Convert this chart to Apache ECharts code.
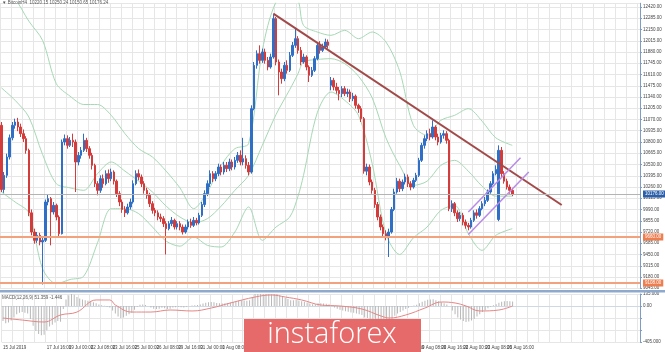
<!DOCTYPE html>
<html>
<head>
<meta charset="utf-8">
<script src="https://cdn.jsdelivr.net/npm/echarts@6/dist/echarts.min.js"></script>
<style>
  html, body { margin: 0; padding: 0; background: #fff; }
  #chart { width: 665px; height: 352px; }
</style>
</head>
<body>
<div id="chart"></div>
<script>
// BTC H4 candles, one per 4 hours, weekends skipped
const opens = [
  11000, 10230, 10400, 10620, 10850, 11000, 11040, 10980, 10900, 10840,
  10700, 9950, 9720, 9620, 9680, 9600, 9620, 10080, 10120, 9960,
  10040, 9900, 9700, 10800, 10840, 10760, 10820, 10800, 10560, 10640,
  10700, 10820, 10720, 10640, 10520, 10300, 10220, 10360, 10300, 10420,
  10360, 10440, 10330, 10180, 10080, 9990, 9950, 10020, 10080, 10300,
  10420, 10380, 10300, 10220, 10160, 10060, 9980, 9950, 9900, 9880,
  9820, 9760, 9820, 9860, 9780, 9820, 9780, 9720, 9780, 9840,
  9800, 9860, 9830, 9920, 10050, 10180, 10300, 10420, 10360, 10420,
  10500, 10440, 10520, 10480, 10560, 10500, 10580, 10640, 10560, 10600,
  10520, 10440, 11200, 11720, 11860, 11780, 11880, 11780, 11700, 11820,
  12280, 11760, 11640, 11560, 11720, 11660, 11840, 11960, 12040, 11900,
  11760, 11820, 11700, 11600, 11660, 11800, 11960, 11900, 11940, 12000,
  11480, 11540, 11460, 11420, 11380, 11440, 11380, 11400, 11320, 11350,
  11240, 11200, 11080, 10450, 10500, 10320, 10220, 10050, 9900, 9780,
  9700, 9660, 9720, 9990, 10200, 10330, 10240, 10320, 10380, 10300,
  10260, 10340, 10400, 10580, 10760, 10840, 10900, 10860, 10980, 10860,
  10800, 10880, 10900, 10820, 10000, 10060, 9950, 9880, 9920, 9840,
  9800, 9780, 9860, 9950, 9920, 10000, 10060, 10100, 10200, 10300,
  10420, 9870, 10700, 10420, 10330, 10260, 10220
];
const closes = [
  10230, 10400, 10620, 10850, 11000, 11040, 10980, 10900, 10840, 10700,
  9950, 9720, 9620, 9680, 9600, 9620, 10080, 10120, 9960, 10040,
  9900, 9700, 10800, 10840, 10760, 10820, 10800, 10560, 10640, 10700,
  10820, 10720, 10640, 10520, 10300, 10220, 10360, 10300, 10420, 10360,
  10440, 10330, 10180, 10080, 9990, 9950, 10020, 10080, 10300, 10420,
  10380, 10300, 10220, 10160, 10060, 9980, 9950, 9900, 9880, 9820,
  9760, 9820, 9860, 9780, 9820, 9780, 9720, 9780, 9840, 9800,
  9860, 9830, 9920, 10050, 10180, 10300, 10420, 10360, 10420, 10500,
  10440, 10520, 10480, 10560, 10500, 10580, 10640, 10560, 10600, 10520,
  10440, 11200, 11720, 11860, 11780, 11880, 11780, 11700, 11820, 12280,
  11760, 11640, 11560, 11720, 11660, 11840, 11960, 12040, 11900, 11760,
  11820, 11700, 11600, 11660, 11800, 11960, 11900, 11940, 12000, 11960,
  11540, 11460, 11420, 11380, 11440, 11380, 11400, 11320, 11350, 11240,
  11200, 11080, 10450, 10500, 10320, 10220, 10050, 9900, 9780, 9700,
  9660, 9720, 9990, 10200, 10330, 10240, 10320, 10380, 10300, 10260,
  10340, 10400, 10580, 10760, 10840, 10900, 10860, 10980, 10860, 10800,
  10880, 10900, 10820, 10000, 10060, 9950, 9880, 9920, 9840, 9800,
  9780, 9860, 9950, 9920, 10000, 10060, 10100, 10200, 10300, 10420,
  10470, 10700, 10420, 10330, 10260, 10220, 10176
];
const lows = [
  10200, 10190, 10370, 10590, 10820, 10960, 10930, 10860, 10800, 10660,
  9910, 9680, 9580, 9590, 9560, 9090, 9600, 10040, 9560, 9930,
  9860, 9660, 9690, 10760, 10720, 10740, 10740, 10200, 10520, 10600,
  10680, 10680, 10600, 10470, 10260, 10160, 10190, 10250, 10280, 10310,
  10330, 10290, 10140, 10030, 9950, 9900, 9930, 9990, 10060, 10280,
  10340, 10260, 10180, 10120, 10020, 9940, 9910, 9860, 9840, 9780,
  9450, 9740, 9790, 9750, 9750, 9740, 9690, 9700, 9750, 9770,
  9780, 9800, 9810, 9900, 10020, 10150, 10260, 10320, 10330, 10390,
  10400, 10410, 10440, 10450, 10460, 10470, 10550, 10520, 10520, 10480,
  10400, 10420, 11180, 11680, 11740, 11750, 11740, 11660, 11680, 11800,
  11720, 11360, 11500, 11530, 11620, 11640, 11820, 11930, 11860, 11720,
  11740, 11660, 11520, 11580, 11640, 11780, 11860, 11880, 11920, 11920,
  11420, 11420, 11380, 11300, 11340, 11350, 11340, 11280, 11290, 11200,
  11150, 11040, 10420, 10400, 10280, 10180, 10010, 9860, 9740, 9660,
  9620, 9420, 9700, 9970, 10180, 10200, 10210, 10290, 10260, 10220,
  10240, 10320, 10380, 10560, 10720, 10810, 10820, 10840, 10820, 10760,
  10780, 10840, 10780, 9970, 9960, 9910, 9840, 9850, 9800, 9760,
  9740, 9760, 9840, 9880, 9900, 9980, 10030, 10080, 10180, 10280,
  10400, 9850, 10380, 10300, 10230, 10180, 10150
];
const highs = [
  11040, 10440, 10660, 10890, 11040, 11080, 11090, 11020, 10950, 10870,
  10720, 9990, 9760, 9720, 9710, 9660, 10110, 10170, 10140, 10080,
  10060, 9920, 10830, 10890, 10880, 10860, 10900, 10830, 10680, 10740,
  10900, 10850, 10750, 10670, 10540, 10330, 10400, 10410, 10460, 10470,
  10480, 10460, 10350, 10210, 10110, 10030, 10060, 10120, 10340, 10460,
  10470, 10410, 10330, 10250, 10190, 10090, 10010, 9980, 9940, 9910,
  9850, 9850, 9900, 9880, 9850, 9850, 9810, 9810, 9870, 9880,
  9900, 9890, 9950, 10080, 10220, 10340, 10460, 10450, 10450, 10540,
  10530, 10560, 10560, 10600, 10590, 10620, 10680, 10700, 10850, 10640,
  10560, 11240, 11760, 11900, 11960, 11920, 11920, 11820, 11860, 12330,
  12300, 11790, 11680, 11760, 11780, 11880, 12000, 12170, 12070, 11940,
  11860, 11840, 11720, 11700, 11830, 12000, 12010, 11980, 12040, 12030,
  11580, 11570, 11510, 11460, 11470, 11470, 11440, 11430, 11390, 11370,
  11260, 11230, 11100, 10540, 10530, 10350, 10250, 10080, 9930, 9810,
  9740, 9760, 10020, 10240, 10370, 10360, 10350, 10420, 10410, 10330,
  10370, 10430, 10610, 10790, 10880, 10940, 10960, 11060, 11000, 10900,
  10910, 10940, 10930, 10840, 10100, 10080, 9980, 9960, 9950, 9870,
  9830, 9890, 9980, 9990, 10030, 10090, 10140, 10230, 10330, 10450,
  10520, 10760, 10740, 10450, 10360, 10290, 10250
];

// Bollinger bands (20, 2), read every few candles
const bbIdx = [0, 5, 10, 15, 20, 25, 30, 35, 40, 45, 50, 55, 60, 65, 70, 75, 80, 85, 90, 95,
  100, 105, 108, 110, 115, 120, 125, 130, 135, 140, 145, 150, 155, 160, 165, 170, 175, 180, 186];
const bbUp = [12700, 12520, 12250, 12020, 11500, 11350, 11250, 11250, 11120, 10900,
  10720, 10620, 10450, 10250, 10000, 10200, 10520, 10720, 10780, 11900,
  12480, 12560, 12500, 12200, 12120, 12080, 12140, 12040, 12120, 12000,
  11650, 11000, 10880, 11060, 11120, 11200, 11050, 10850, 10760];
const bbMid = [11450, 11300, 11100, 10650, 10300, 10250, 10220, 10420, 10560, 10450,
  10330, 10200, 10030, 9900, 9830, 9880, 10030, 10220, 10400, 10760,
  11130, 11430, 11620, 11760, 11790, 11800, 11740, 11590, 11330, 10850,
  10520, 10280, 10330, 10520, 10580, 10450, 10270, 10150, 10150];
const bbLow = [10200, 10080, 9950, 9280, 9100, 9150, 9190, 9590, 10000, 10000,
  9940, 9780, 9610, 9550, 9660, 9560, 9540, 9720, 10020, 9620,
  9780, 9900, 10150, 10400, 11150, 11400, 11300, 11120, 10540, 9700,
  9450, 9650, 9780, 9980, 10040, 9700, 9500, 9680, 9760];

// MACD(12,26,9) bars, one per candle
const macdBars = [
  -170, -195, -187, -162, -128, -94, -77, -68, -77, -85,
  -145, -221, -280, -315, -330, -323, -272, -230, -212, -187,
  -170, -178, -34, 72, 120, 135, 126, 102, 84, 72,
  66, 60, 54, 42, 30, 18, 9, 3, -9, -17,
  -51, -85, -119, -136, -128, -111, -94, -77, -43, -9,
  15, 18, 12, 0, -17, -30, -34, -30, -21, -26,
  -34, -30, -17, -13, -9, -13, -17, -9, 0, 6,
  9, 12, 18, 27, 36, 42, 45, 42, 33, 30,
  27, 30, 33, 39, 45, 51, 60, 66, 63, 60,
  66, 102, 135, 135, 135, 135, 135, 135, 132, 135,
  135, 120, 102, 90, 78, 66, 66, 69, 63, 54,
  48, 39, 27, 21, 21, 30, 30, 27, 24, 21,
  6, -17, -30, -43, -51, -60, -64, -72, -77, -85,
  -94, -102, -128, -136, -145, -153, -170, -179, -187, -187,
  -183, -170, -145, -111, -85, -68, -51, -34, -21, -4,
  6, 15, 30, 48, 60, 69, 72, 75, 66, 54,
  42, 30, 18, 0, -51, -94, -128, -153, -170, -179,
  -174, -162, -145, -119, -94, -68, -47, -26, -9, 9,
  21, 36, 48, 54, 57, 54, 51
];
// signal line, read at its turning points
const sigIdx = [0, 7, 15, 21, 27, 34, 39, 41, 47, 54, 61, 69, 76, 83, 92, 98, 103, 109, 116, 123,
  131, 138, 141, 147, 154, 160, 165, 169, 174, 181, 186];
const sigVal = [-135, -158, -180, -101, -68, 68, 68, 11, -68, -68, -45, -56, -23, 34, 101, 124, 101, 68, 11, 0,
  -34, -113, -135, -101, -23, 45, 34, 0, -56, -45, 0];

// drawn levels and lines
const supportLevels = [9660, 9108];
const trendLine = [[99, 12340], [204, 10044]];
const channelUpper = [[170, 9960], [189, 10610]];
const channelLower = [[170, 9690], [192, 10440]];

const xLabels = ['15 Jul 2019', '16 Jul 08:00', '17 Jul 16:00', '19 Jul 00:00', '22 Jul 08:00',
  '23 Jul 16:00', '25 Jul 00:00', '26 Jul 08:00', '29 Jul 16:00', '31 Jul 00:00', '1 Aug 08:00',
  '2 Aug 16:00', '6 Aug 00:00', '7 Aug 08:00', '8 Aug 16:00', '12 Aug 00:00', '13 Aug 08:00',
  '14 Aug 16:00', '16 Aug 00:00', '19 Aug 08:00', '20 Aug 16:00', '22 Aug 00:00', '23 Aug 08:00',
  '26 Aug 16:00'];

const SLOTS = 233; // empty room on the right, like the terminal
const cats = [];
for (let i = 0; i < SLOTS; i++) cats.push(i);

const candles = opens.map((o, i) => [o, closes[i], lows[i], highs[i]]);
const lastClose = closes[closes.length - 1];
const pairs = (xs, ys) => xs.map((x, k) => [x, ys[k]]);

const gridColor = '#e6e6e6';
const axisBlue = '#7f9dc4';
const txt = { fontSize: 4.5, color: '#444', fontFamily: 'Liberation Sans' };

const chart = echarts.init(document.getElementById('chart'));

function levelLine(value, color, width, labelBg) {
  return {
    yAxis: value,
    lineStyle: { color: color, width: width, type: 'solid' },
    label: {
      show: true,
      position: 'end',
      distance: 3,
      formatter: (p) => p.value.toFixed(2),
      backgroundColor: labelBg,
      color: '#fff',
      fontSize: 4.5,
      fontFamily: 'Liberation Sans',
      padding: [1, 2],
    },
  };
}

const option = {
  animation: false,
  backgroundColor: '#fff',
  grid: [
    { left: 0, right: 25, top: 3.25, height: 285 },
    { left: 0, right: 25, top: 294, height: 48 },
  ],
  xAxis: [
    {
      type: 'category', gridIndex: 0, data: cats,
      axisLine: { show: false },
      axisTick: { show: false }, axisLabel: { show: false },
      splitLine: { show: true, interval: 3, lineStyle: { color: gridColor } },
    },
    {
      type: 'category', gridIndex: 1, data: cats,
      axisLine: { show: true, lineStyle: { color: '#cfd9e6' } },
      axisTick: { show: false },
      axisLabel: Object.assign({
        interval: 7, align: 'left', margin: 3, showMinLabel: true,
        formatter: (v, i) => xLabels[i / 8] || '',
      }, txt),
      splitLine: { show: true, interval: 3, lineStyle: { color: gridColor } },
    },
  ],
  yAxis: [
    {
      type: 'value', gridIndex: 0, position: 'right',
      min: 9045, max: 12465, interval: 135,
      axisLine: { show: true, lineStyle: { color: axisBlue } },
      axisTick: { show: true, length: 2, lineStyle: { color: axisBlue } },
      axisLabel: Object.assign({ margin: 3, showMaxLabel: false, formatter: (v) => v.toFixed(2) }, txt),
      splitLine: { lineStyle: { color: gridColor } },
    },
    {
      type: 'value', gridIndex: 1, position: 'right',
      min: -405, max: 135, interval: 135,
      axisLine: { show: true, lineStyle: { color: axisBlue } },
      axisTick: { show: true, length: 2, lineStyle: { color: axisBlue } },
      axisLabel: Object.assign({
        margin: 3,
        formatter: (v) => (v === 0 ? '0.00' : (v === 135 || v === -405) ? v.toFixed(3) : ''),
      }, txt),
      splitLine: { lineStyle: { color: gridColor } },
    },
  ],
  series: [
    {
      name: 'upper', type: 'line', data: pairs(bbIdx, bbUp), symbol: 'none', smooth: 0.3,
      lineStyle: { color: '#a6d8b4', width: 1 }, z: 1,
    },
    {
      name: 'middle', type: 'line', data: pairs(bbIdx, bbMid), symbol: 'none', smooth: 0.3,
      lineStyle: { color: '#a6d8b4', width: 1 }, z: 1,
    },
    {
      name: 'lower', type: 'line', data: pairs(bbIdx, bbLow), symbol: 'none', smooth: 0.3,
      lineStyle: { color: '#a6d8b4', width: 1 }, z: 1,
    },
    {
      name: 'BitcoinH4', type: 'candlestick', data: candles, barWidth: 2, z: 3,
      itemStyle: {
        color: '#2f6fc6', color0: '#d43b3b',
        borderColor: '#2f6fc6', borderColor0: '#d43b3b', borderWidth: 1,
      },
      markLine: {
        silent: true, symbol: ['none', 'none'],
        data: [
          levelLine(lastClose, '#b4b4b4', 1, '#2c5fa8'),
          levelLine(supportLevels[0], '#f2a27c', 2, '#ee7d4f'),
          levelLine(supportLevels[1], '#f2a27c', 2, '#ee7d4f'),
        ],
      },
    },
    {
      name: 'trend', type: 'line', data: trendLine, symbol: 'none', z: 4,
      lineStyle: { color: '#a24a4a', width: 2 },
    },
    {
      name: 'channel top', type: 'line', data: channelUpper, symbol: 'none', z: 4,
      lineStyle: { color: '#b98be6', width: 1.5 },
    },
    {
      name: 'channel bottom', type: 'line', data: channelLower, symbol: 'none', z: 4,
      lineStyle: { color: '#b98be6', width: 1.5 },
    },
    {
      name: 'MACD', type: 'bar', xAxisIndex: 1, yAxisIndex: 1, data: macdBars,
      barWidth: 1, itemStyle: { color: '#b8b8b8' },
    },
    {
      name: 'Signal', type: 'line', xAxisIndex: 1, yAxisIndex: 1, data: pairs(sigIdx, sigVal),
      symbol: 'none', smooth: 0.4, lineStyle: { color: '#e58686', width: 1 }, z: 3,
    },
  ],
  graphic: [
    {
      type: 'text', left: 2, top: 0, z: 10,
      style: { text: '\u25BC BitcoinH4  10220.15 10250.24 10150.65 10176.24', fontSize: 4.5, fill: '#555', fontFamily: 'Liberation Sans' },
    },
    // panel separator
    {
      type: 'rect', z: 5,
      shape: { x: 0, y: 290, width: 665, height: 2.5 },
      style: { fill: '#8fa9cc' },
    },
    {
      type: 'text', left: 2, top: 295, z: 10,
      style: { text: 'MACD(12,26,9) 51.359 -1.446', fontSize: 4.5, fill: '#555', fontFamily: 'Liberation Sans' },
    },
    {
      type: 'rect', z: 20,
      shape: { x: 244, y: 319, width: 177, height: 33 },
      style: { fill: '#e76a6a' },
    },
    {
      type: 'text', z: 21, x: 332, y: 335,
      style: {
        text: 'instaforex', fill: '#fff', fontSize: 29, fontFamily: 'Open Sans',
        fontWeight: 300, textAlign: 'center', textVerticalAlign: 'middle',
      },
    },
  ],
};

chart.setOption(option);
</script>
</body>
</html>
